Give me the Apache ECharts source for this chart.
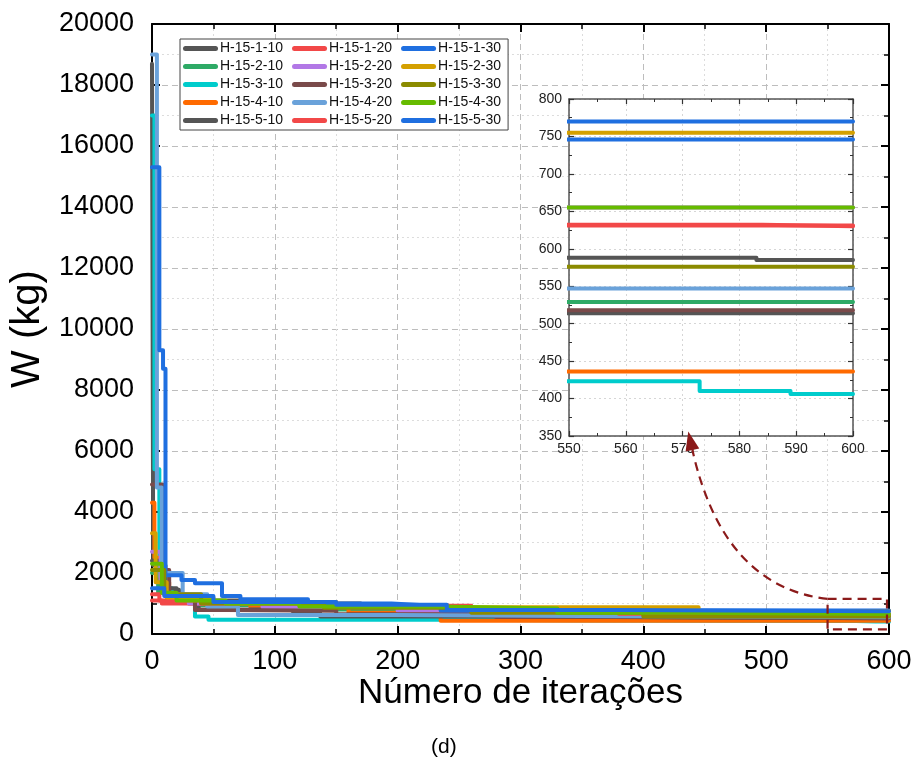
<!DOCTYPE html>
<html>
<head>
<meta charset="utf-8">
<script src="https://cdn.jsdelivr.net/npm/echarts@6/dist/echarts.min.js"></script>
<style>
  html, body { margin: 0; padding: 0; background: #fff; }
  #chart { width: 915px; height: 765px; }
</style>
</head>
<body>
<div id="chart"></div>
<script>
// [iteração, W (kg)] - pontos onde o valor muda (degraus)
const h15_1_10 = [[0, 18700], [1, 2250], [11, 1450], [22, 1250], [45, 1100], [90, 1000], [170, 880], [235, 700], [330, 640], [420, 588], [583, 585], [600, 585]]
const h15_2_10 = [[0, 2000], [5, 1350], [14, 1150], [40, 950], [100, 800], [230, 700], [350, 560], [480, 529], [600, 529]]
const h15_3_10 = [[0, 17000], [2, 5400], [6, 1900], [10, 1500], [16, 1100], [35, 570], [46, 470], [250, 440], [350, 423], [573, 410], [589, 406], [600, 406]]
const h15_4_10 = [[0, 4300], [2, 2500], [7, 1700], [14, 1200], [30, 1000], [80, 900], [160, 700], [235, 436], [600, 436]]
const h15_5_10 = [[0, 2400], [9, 1500], [20, 1200], [38, 800], [115, 680], [137, 570], [300, 540], [450, 514], [600, 514]]
const h15_1_20 = [[0, 1100], [8, 1000], [30, 950], [160, 900], [240, 820], [330, 700], [450, 632], [584, 630], [600, 630]]
const h15_2_20 = [[0, 2700], [7, 1700], [12, 1300], [30, 1000], [90, 880], [200, 760], [320, 680], [460, 655], [600, 655]]
const h15_3_20 = [[0, 4900], [9, 2100], [14, 1200], [35, 790], [60, 760], [150, 650], [280, 560], [400, 518], [600, 518]]
const h15_4_20 = [[0, 19000], [4, 4800], [8, 2000], [25, 1300], [45, 900], [70, 620], [200, 590], [350, 547], [600, 547]]
const h15_5_20 = [[0, 1300], [6, 1100], [40, 1000], [150, 930], [260, 780], [380, 660], [520, 631], [600, 631]]
const h15_1_30 = [[0, 15300], [6, 9300], [9, 8700], [11, 1930], [24, 1770], [35, 1660], [57, 1250], [72, 1140], [127, 1000], [195, 950], [218, 895], [235, 770], [600, 770]]
const h15_2_30 = [[0, 3300], [3, 1700], [12, 1200], [50, 1050], [150, 950], [240, 880], [445, 755], [600, 755]]
const h15_3_30 = [[0, 2100], [10, 1300], [40, 1000], [140, 860], [260, 700], [400, 576], [600, 576]]
const h15_4_30 = [[0, 2300], [8, 1350], [20, 1100], [60, 1000], [120, 900], [230, 840], [330, 700], [430, 655], [600, 655]]
const h15_5_30 = [[0, 1500], [10, 1250], [50, 1050], [150, 960], [240, 790], [380, 746], [600, 746]]

const seriesNames = [
  'H-15-1-10', 'H-15-2-10', 'H-15-3-10', 'H-15-4-10', 'H-15-5-10',
  'H-15-1-20', 'H-15-2-20', 'H-15-3-20', 'H-15-4-20', 'H-15-5-20',
  'H-15-1-30', 'H-15-2-30', 'H-15-3-30', 'H-15-4-30', 'H-15-5-30'
]
const seriesData = [
  h15_1_10, h15_2_10, h15_3_10, h15_4_10, h15_5_10,
  h15_1_20, h15_2_20, h15_3_20, h15_4_20, h15_5_20,
  h15_1_30, h15_2_30, h15_3_30, h15_4_30, h15_5_30
]
const seriesColors = [
  '#555555', '#2eaa66', '#00cccc', '#ff6a00', '#555555',
  '#f24848', '#b278e6', '#7a4a4a', '#6aa2da', '#f24848',
  '#1f6fe0', '#d4a000', '#8b8b00', '#66bb00', '#1f6fe0'
]

const FONT = 'Liberation Sans, Arial, sans-serif'
const DARK_RED = '#8b1a1a'
// ícone da legenda: traço grosso com pontas arredondadas
const LINE_ICON = 'path://M2.5,0 H32.5 A2.5,2.5 0 0 1 32.5,5 H2.5 A2.5,2.5 0 0 1 2.5,0 Z'

const chart = echarts.init(document.getElementById('chart'), null, { renderer: 'canvas' })

// eixos do gráfico principal (baixo/esquerda com rótulos, topo/direita só moldura)
function mainAxis(extra) {
  return Object.assign({
    type: 'value',
    gridIndex: 0,
    axisLine: { show: true, onZero: false, lineStyle: { color: '#000', width: 2 } },
    axisTick: { show: true, inside: true, length: 8, lineStyle: { color: '#000', width: 2 } },
    minorTick: { show: true, splitNumber: 2, length: 5, lineStyle: { color: '#000', width: 1.5 } },
    axisLabel: { show: false },
    splitLine: { show: false },
    minorSplitLine: { show: false }
  }, extra)
}

// eixos do detalhe (zoom 550-600)
function insetAxis(extra) {
  return Object.assign({
    type: 'value',
    gridIndex: 1,
    z: 4,
    axisLine: { show: true, onZero: false, lineStyle: { color: '#555', width: 1.5 } },
    axisTick: { show: true, inside: true, length: 5, lineStyle: { color: '#333', width: 1.2 } },
    minorTick: { show: true, splitNumber: 2, length: 3, lineStyle: { color: '#333', width: 1 } },
    axisLabel: { show: false },
    splitLine: { show: false },
    minorSplitLine: { show: false }
  }, extra)
}

const mainGridLines = {
  splitLine: { show: true, lineStyle: { color: '#bdbdbd', type: [6, 4], width: 1 } },
  minorSplitLine: { show: true, lineStyle: { color: '#dcdcdc', type: [2, 3], width: 1 } }
}
const insetGridLines = {
  splitLine: { show: true, lineStyle: { color: '#d6d6d6', type: [2, 3], width: 1 } }
}
const plainNumber = v => String(v)

const series = []
seriesNames.forEach((name, i) => {
  const base = {
    name,
    type: 'line',
    step: 'end',
    symbol: 'none',
    data: seriesData[i],
    itemStyle: { color: seriesColors[i] },
    lineStyle: { color: seriesColors[i], width: 4, cap: 'round', join: 'round' },
    animation: false
  }
  series.push(Object.assign({}, base, { xAxisIndex: 0, yAxisIndex: 0 }))
  series.push(Object.assign({}, base, { xAxisIndex: 2, yAxisIndex: 2, z: 5, clip: true }))
})

chart.setOption({
  animation: false,
  textStyle: { fontFamily: FONT },
  grid: [
    { left: 148, right: 26, top: 24, bottom: 131 },
    { left: 569, right: 62, top: 99, bottom: 329, show: true, backgroundColor: '#fff', borderWidth: 0, z: 3 }
  ],
  legend: {
    data: seriesNames,
    icon: LINE_ICON,
    orient: 'vertical',
    left: 180,
    top: 39,
    height: 92,
    itemGap: 3,
    itemWidth: 35,
    itemHeight: 5,
    padding: [2, 1, 2, 3],
    borderColor: '#444',
    borderWidth: 1,
    backgroundColor: '#fff',
    textStyle: { fontSize: 14, color: '#111', fontFamily: FONT, padding: [0, 6, 0, -3], lineHeight: 15 }
  },
  xAxis: [
    mainAxis(Object.assign({
      position: 'bottom', min: 0, max: 600, interval: 100,
      axisLabel: { show: true, fontSize: 27, color: '#000', margin: 14, fontFamily: FONT, formatter: plainNumber },
      name: 'Número de iterações', nameLocation: 'middle', nameGap: 42, nameMoveOverlap: false,
      nameTextStyle: { fontSize: 35, color: '#000', fontFamily: FONT }
    }, mainGridLines)),
    mainAxis({ position: 'top', min: 0, max: 600, interval: 100 }),
    insetAxis(Object.assign({
      position: 'bottom', min: 550, max: 600, interval: 10,
      axisLabel: { show: true, fontSize: 14, color: '#222', margin: 6, fontFamily: FONT, formatter: plainNumber }
    }, insetGridLines)),
    insetAxis({ position: 'top', min: 550, max: 600, interval: 10 })
  ],
  yAxis: [
    mainAxis(Object.assign({
      position: 'left', min: 0, max: 20000, interval: 2000,
      axisLabel: { show: true, fontSize: 27, color: '#000', margin: 18, fontFamily: FONT, formatter: plainNumber },
      name: 'W (kg)', nameLocation: 'middle', nameGap: 100, nameRotate: 90,
      nameTextStyle: { fontSize: 40, color: '#000', fontFamily: FONT }
    }, mainGridLines)),
    mainAxis({ position: 'right', min: 0, max: 20000, interval: 2000 }),
    insetAxis(Object.assign({
      position: 'left', min: 350, max: 800, interval: 50,
      axisLabel: { show: true, fontSize: 14, color: '#222', margin: 7, fontFamily: FONT, formatter: plainNumber }
    }, insetGridLines)),
    insetAxis({ position: 'right', min: 350, max: 800, interval: 50 })
  ],
  series
})

// retângulo tracejado (região ampliada) + seta até o detalhe
const mainFinder = { xAxisIndex: 0, yAxisIndex: 0 }
const insetFinder = { xAxisIndex: 2, yAxisIndex: 2 }
const boxA = chart.convertToPixel(mainFinder, [550, 1150])
const boxB = chart.convertToPixel(mainFinder, [600, 150])
const tip = chart.convertToPixel(insetFinder, [571, 356])
const ctrl = [tip[0] + (boxA[0] - tip[0]) * 0.25, boxA[1] - 12]

let dx = tip[0] - ctrl[0], dy = tip[1] - ctrl[1]
const len = Math.sqrt(dx * dx + dy * dy)
dx /= len; dy /= len
const headLen = 19, headW = 7
const baseX = tip[0] - dx * headLen, baseY = tip[1] - dy * headLen

chart.setOption({
  graphic: [
    {
      type: 'rect', z: 10, silent: true,
      shape: { x: boxA[0], y: boxA[1], width: boxB[0] - boxA[0] - 2, height: boxB[1] - boxA[1] },
      style: { fill: 'none', stroke: DARK_RED, lineWidth: 2.2, lineDash: [9, 6] }
    },
    {
      type: 'bezierCurve', z: 10, silent: true,
      shape: { x1: boxA[0], y1: boxA[1], cpx1: ctrl[0], cpy1: ctrl[1], x2: baseX, y2: baseY },
      style: { fill: 'none', stroke: DARK_RED, lineWidth: 2.2, lineDash: [9, 6] }
    },
    {
      type: 'polygon', z: 10, silent: true,
      shape: {
        points: [
          [tip[0], tip[1]],
          [baseX - dy * headW, baseY + dx * headW],
          [baseX + dy * headW, baseY - dx * headW]
        ]
      },
      style: { fill: DARK_RED }
    },
    {
      type: 'text', left: 431, top: 737, silent: true,
      style: { text: '(d)', fontSize: 21, fill: '#000', fontFamily: FONT }
    }
  ]
})
</script>
</body>
</html>
